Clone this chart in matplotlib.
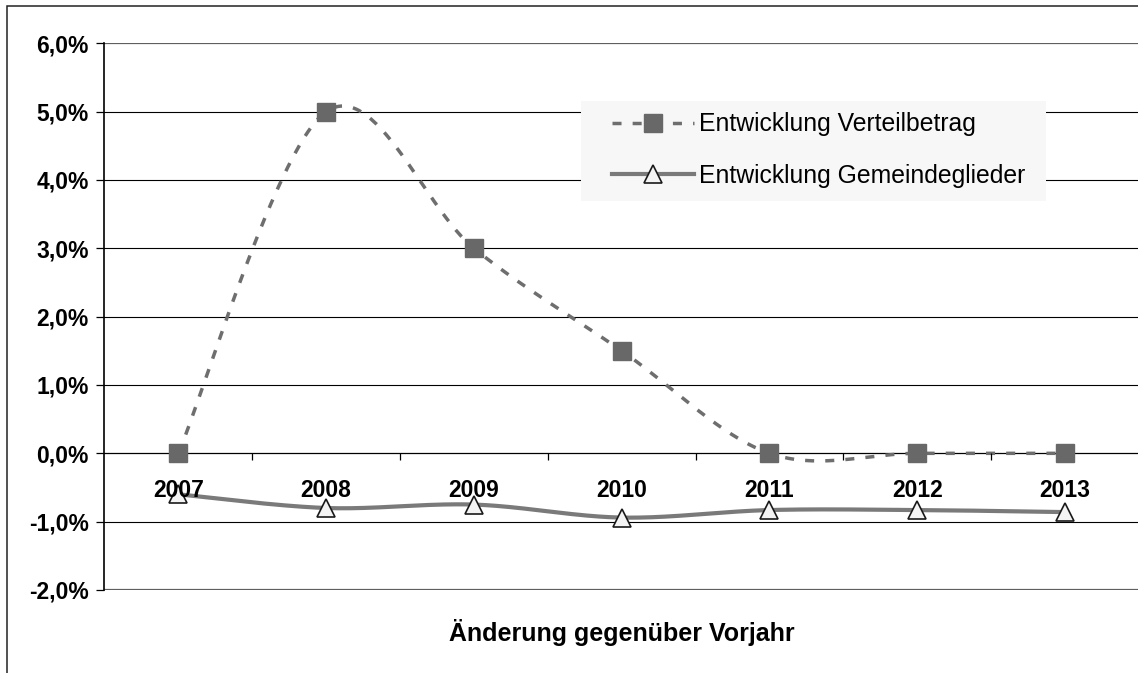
import numpy as np
import matplotlib
matplotlib.use("Agg")
import matplotlib.pyplot as plt
from matplotlib.patches import Rectangle
from matplotlib.lines import Line2D

plt.rcParams['font.family'] = ['Liberation Sans', 'DejaVu Sans']

# ---- data ----
years = ['2007', '2008', '2009', '2010', '2011', '2012', '2013']
verteilbetrag = [0.0, 5.0, 3.0, 1.5, 0.0, 0.0, 0.0]
gemeindeglieder = [-0.6, -0.8, -0.75, -0.94, -0.83, -0.83, -0.86]
y_ticks = [-2, -1, 0, 1, 2, 3, 4, 5, 6]
y_tick_labels = ['-2,0%', '-1,0%', '0,0%', '1,0%', '2,0%', '3,0%', '4,0%', '5,0%', '6,0%']
series_labels = ['Entwicklung Verteilbetrag', 'Entwicklung Gemeindeglieder']
x_title = 'Änderung gegenüber Vorjahr'


def smooth(xs, ys, n=60):
    """Excel-like smoothed line (Catmull-Rom as cubic Bezier)."""
    xs = np.asarray(xs, float)
    ys = np.asarray(ys, float)
    px = np.concatenate([[xs[0]], xs, [xs[-1]]])
    py = np.concatenate([[ys[0]], ys, [ys[-1]]])
    t = np.linspace(0, 1, n)
    ox, oy = [], []
    for i in range(len(xs) - 1):
        p0 = np.array([px[i], py[i]])
        p1 = np.array([px[i + 1], py[i + 1]])
        p2 = np.array([px[i + 2], py[i + 2]])
        p3 = np.array([px[i + 3], py[i + 3]])
        c1 = p1 + (p2 - p0) / 6.0
        c2 = p2 - (p3 - p1) / 6.0
        b = ((1 - t) ** 3)[:, None] * p1 + (3 * (1 - t) ** 2 * t)[:, None] * c1 \
            + (3 * (1 - t) * t ** 2)[:, None] * c2 + (t ** 3)[:, None] * p2
        if i > 0:
            b = b[1:]
        ox.extend(b[:, 0])
        oy.extend(b[:, 1])
    return np.array(ox), np.array(oy)


W, H = 1138, 673
fig = plt.figure(figsize=(W / 100, H / 100), dpi=100)
ax = fig.add_axes([104.4 / W, 83 / H, 1034.6 / W, 546.7 / H])

x = np.arange(len(years))
ax.set_xlim(-0.5, len(years) - 0.5)
ax.set_ylim(min(y_ticks), max(y_ticks))

# gridlines
for v in y_ticks:
    if v in (min(y_ticks), max(y_ticks)):
        ax.axhline(v, color='#5f5f5f', lw=1.6, zorder=1)
    elif v != 0:
        ax.axhline(v, color='black', lw=0.8, zorder=1)

dash_col = '#6e6e6e'
sq_col = '#686868'
line_col = '#7a7a7a'
dash_lw = 2.5
dashes = (2.6, 3.2)

sx, sy = smooth(x, verteilbetrag)
ax.plot(sx, sy, color=dash_col, lw=dash_lw, linestyle=(0, dashes),
        dash_capstyle='butt', zorder=3)
ax.plot(x, verteilbetrag, linestyle='none', marker='s', ms=13,
        mfc=sq_col, mec=sq_col, zorder=4)

gx, gy = smooth(x, gemeindeglieder)
ax.plot(gx, gy, color=line_col, lw=3.0, solid_capstyle='butt', zorder=3)
ax.plot(x, gemeindeglieder, linestyle='none', marker='^', ms=13,
        mfc='#f4f4f4', mec='#1a1a1a', mew=1.2, zorder=4)

# spines
for s in ('top', 'right'):
    ax.spines[s].set_visible(False)
ax.spines['bottom'].set_position(('data', 0))
ax.spines['bottom'].set_color('black')
ax.spines['bottom'].set_linewidth(0.9)
ax.spines['bottom'].set_zorder(1.2)
ax.spines['left'].set_color('black')
ax.spines['left'].set_linewidth(1.2)

# x ticks
ax.set_xticks(x)
ax.set_xticklabels(years, fontsize=16.5, fontweight='bold')
ax.set_xticks(x[:-1] + 0.5, minor=True)
ax.tick_params(axis='x', which='major', length=0, pad=18.5)
ax.tick_params(axis='x', which='minor', length=5, width=0.9, direction='out', color='black')
ax.xaxis.set_zorder(5)

# y ticks
ax.set_yticks(y_ticks)
ax.set_yticklabels(y_tick_labels, fontsize=16.5, fontweight='bold')
ax.tick_params(axis='y', length=5.8, width=0.9, pad=5.5, color='black')

# axis title
fig.text(622 / W, 1 - 632 / H, x_title, ha='center', va='center',
         fontsize=18, fontweight='bold')

# legend background box
fig.patches.append(Rectangle((581 / W, 1 - 201 / H), (1046 - 581) / W, 100.3 / H,
                             transform=fig.transFigure, facecolor='#f7f7f7',
                             edgecolor='none', zorder=1))
handles = [
    Line2D([], [], color=dash_col, lw=dash_lw, linestyle=(0, dashes), marker='s', ms=13,
           mfc=sq_col, mec=sq_col, dash_capstyle='butt'),
    Line2D([], [], color=line_col, lw=3.0, marker='^', ms=13,
           mfc='#f4f4f4', mec='#1a1a1a', mew=1.2),
]
fig.legend(handles, series_labels, loc='center left',
           bbox_to_anchor=(612 / W, 1 - 150 / H), frameon=False,
           fontsize=17.8, handlelength=3.3, handletextpad=0.2,
           labelspacing=1.1, borderpad=0, borderaxespad=0, numpoints=1)

# outer chart border (left and top visible)
fig.patches.append(Rectangle((6.5 / W, -0.1), 1.2, 1.1 - 6 / H,
                             transform=fig.transFigure, fill=False,
                             edgecolor='#222222', lw=1.1, zorder=0.5))

fig.savefig('out.png', dpi=100)
